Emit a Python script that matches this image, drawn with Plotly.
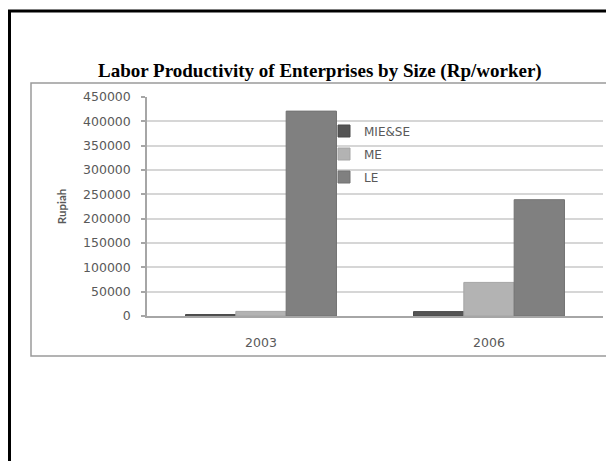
import plotly.graph_objects as go

# ---- data ----
categories = ["2003", "2006"]
series_names = ["MIE&SE", "ME", "LE"]
mie_se = [3000, 9000]
me = [9500, 69000]
le = [421000, 239000]
y_ticks = [0, 50000, 100000, 150000, 200000, 250000, 300000, 350000, 400000, 450000]
title_text = "Labor Productivity of Enterprises by Size (Rp/worker)"
y_title = "Rupiah"

colors = ["#555555", "#b3b3b3", "#808080"]
edges = ["#4a4a4a", "#a5a5a5", "#737373"]

W, H = 606, 461
L, R, T, B = 147, 3, 97, 145
PW = W - L - R
PH = H - T - B


def px_x(x):
    return (x - L) / PW


def px_y(y):
    return (H - B - y) / PH


fig = go.Figure()
for name, vals, c, e in zip(series_names, [mie_se, me, le], colors, edges):
    fig.add_trace(go.Bar(
        x=categories, y=vals, name=name, legendgroup=name,
        marker=dict(color=c, line=dict(color=e, width=1)),
    ))

font_fam = "DejaVu Sans"
grey_txt = "#595959"

fig.update_layout(
    width=W, height=H,
    margin=dict(l=L, r=R, t=T, b=B, pad=0),
    paper_bgcolor="white", plot_bgcolor="white",
    barmode="group", bargap=0.338, bargroupgap=0,
    showlegend=True,
    legend=dict(
        x=px_x(324), y=px_y(116.5), xanchor="left", yanchor="top",
        font=dict(family=font_fam, size=12, color=grey_txt),
        bgcolor="rgba(0,0,0,0)", traceorder="grouped", tracegroupgap=4,
        itemwidth=30,
    ),
    xaxis=dict(
        showgrid=False, showline=True, linecolor="#a6a6a6", linewidth=1.5,
        ticks="", tickfont=dict(family=font_fam, size=12.5, color=grey_txt),
        ticklabelstandoff=14,
    ),
    yaxis=dict(
        range=[0, 450000], tickvals=y_ticks,
        ticktext=[str(v) for v in y_ticks],
        showgrid=True, gridcolor="#d6d6d6", gridwidth=1.5,
        showline=True, linecolor="#a6a6a6", linewidth=1.5,
        ticks="outside", ticklen=4, tickcolor="#a6a6a6", tickwidth=1.5,
        tickfont=dict(family=font_fam, size=12.5, color=grey_txt),
        ticklabelstandoff=8, zeroline=False,
        title=dict(text=y_title, font=dict(family="Lato", size=11.5, color=grey_txt, weight="bold"),
                   standoff=14),
    ),
    shapes=[
        # grey chart box
        dict(type="rect", xref="paper", yref="paper",
             x0=px_x(31), x1=px_x(612), y0=px_y(356), y1=px_y(83),
             line=dict(color="#9a9a9a", width=1.5), layer="below"),
        # black frame
        dict(type="line", xref="paper", yref="paper",
             x0=px_x(9.5), x1=px_x(9.5), y0=px_y(10), y1=px_y(470),
             line=dict(color="black", width=3)),
        dict(type="line", xref="paper", yref="paper",
             x0=px_x(8), x1=px_x(612), y0=px_y(11), y1=px_y(11),
             line=dict(color="black", width=3)),
    ],
    annotations=[
        dict(text="<b>" + title_text + "</b>", xref="paper", yref="paper",
             x=px_x(320), y=px_y(84), xanchor="center", yanchor="bottom",
             showarrow=False,
             font=dict(family="Liberation Serif", size=19, color="black")),
    ],
)

fig.write_html(
    "out.html",
    config={"displayModeBar": False},
    post_script="document.body.style.margin='0';document.body.style.overflow='hidden';",
)
